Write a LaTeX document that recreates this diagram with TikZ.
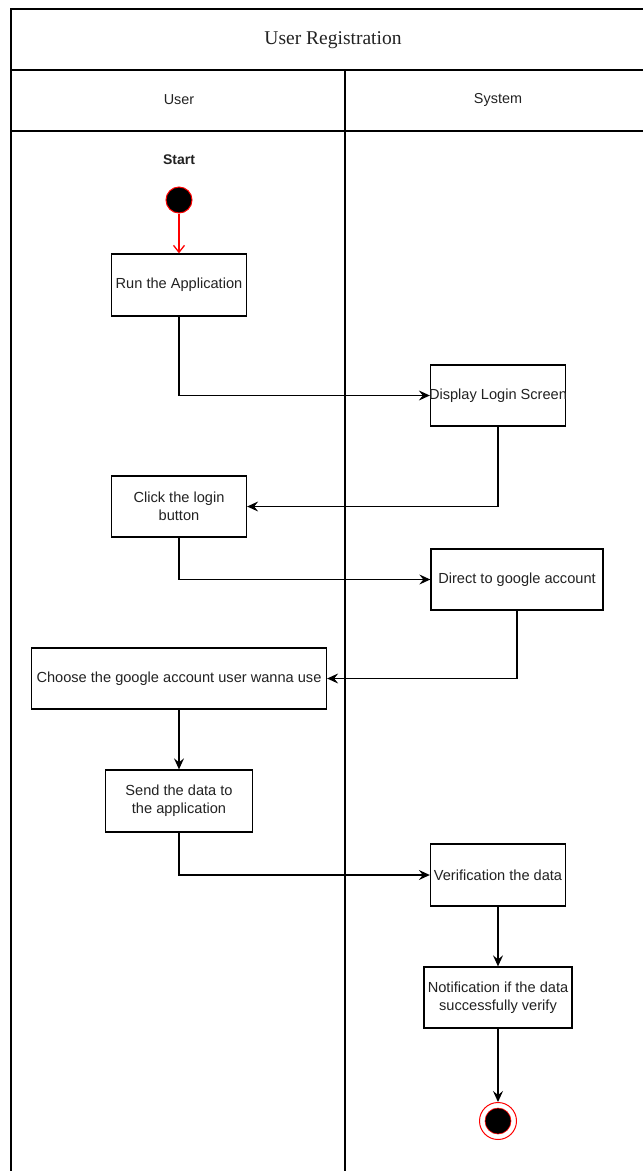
\documentclass[tikz,border=0pt]{standalone}
\usepackage{fontspec}
\setmainfont{Liberation Sans}
\newfontfamily\titlefont{Liberation Serif}
\usetikzlibrary{arrows.meta}
\definecolor{txt}{HTML}{222222}
\definecolor{startred}{HTML}{FF0000}
\begin{document}
\begin{tikzpicture}[x=1pt,y=-1pt,
  lane/.style={line width=1.3pt,draw=black},
  actbox/.style={draw=black,line width=1.3pt,fill=white,inner sep=0pt,
    text=txt,font=\fontsize{14.6}{18}\selectfont,align=center},
  flow/.style={line width=1.3pt,-{Stealth[length=11pt,width=10pt,inset=4pt]}},
  lbl/.style={text=txt,font=\fontsize{14.4}{17}\selectfont}]
\useasboundingbox (0,0) rectangle (643,1171);

% swimlane frame
\draw[lane] (11,1175) -- (11,9) -- (650,9);
\draw[lane] (11,70) -- (650,70);
\draw[lane] (11,131) -- (650,131);
\draw[lane] (345,70) -- (345,1175);
\node[font=\titlefont\fontsize{19.5}{22}\selectfont,text=txt] (title) at (333,40) {User Registration};
\node[lbl] (laneuser) at (179,100) {User};
\node[lbl] (lanesys) at (498,100) {System};

% start
\node[lbl,font=\bfseries\fontsize{14}{17}\selectfont] (startlbl) at (179,160) {Start};
\node[circle,fill=black,draw=startred,line width=1pt,minimum size=26pt,inner sep=0pt] (start) at (179,200) {};

% activities
\node[actbox,minimum width=135pt,minimum height=62pt] (run) at (179,285) {Run the Application};
\node[actbox,minimum width=135pt,minimum height=61pt] (disp) at (498,395.5) {\makebox[135pt]{Display Login Screen}};
\node[actbox,minimum width=135pt,minimum height=61pt] (click) at (179,506.5) {Click the login\\button};
\node[actbox,minimum width=172pt,minimum height=61pt] (direct) at (517,579.5) {Direct to google account};
\node[actbox,minimum width=295pt,minimum height=61pt] (choose) at (179,678.5) {Choose the google account user wanna use};
\node[actbox,minimum width=147pt,minimum height=62pt] (send) at (179,801) {Send the data to\\the application};
\node[actbox,minimum width=135pt,minimum height=62pt] (verify) at (498,875) {Verification the data};
\node[actbox,minimum width=148pt,minimum height=61pt] (notify) at (498,997.5) {Notification if the data\\successfully verify};

% end
\node[circle,draw=startred,line width=1pt,fill=white,minimum size=37pt,inner sep=0pt] (stop) at (498,1121) {};
\node[circle,fill=black,draw=startred,line width=0.6pt,minimum size=26pt,inner sep=0pt] (stopdot) at (498,1121) {};

% flows
\draw[line width=1.3pt,draw=startred,-{Straight Barb[length=7pt,width=11pt]}] (start) -- (run);
\draw[flow] (run.south) |- (disp.west);
\draw[flow] (disp.south) |- (click.east);
\draw[flow] (click.south) |- (direct.west);
\draw[flow] (direct.south) |- (choose.east);
\draw[flow] (choose.south) -- (send.north);
\draw[flow] (send.south) |- (verify.west);
\draw[flow] (verify.south) -- (notify.north);
\draw[flow] (notify.south) -- (stop.north);
\end{tikzpicture}
\end{document}
